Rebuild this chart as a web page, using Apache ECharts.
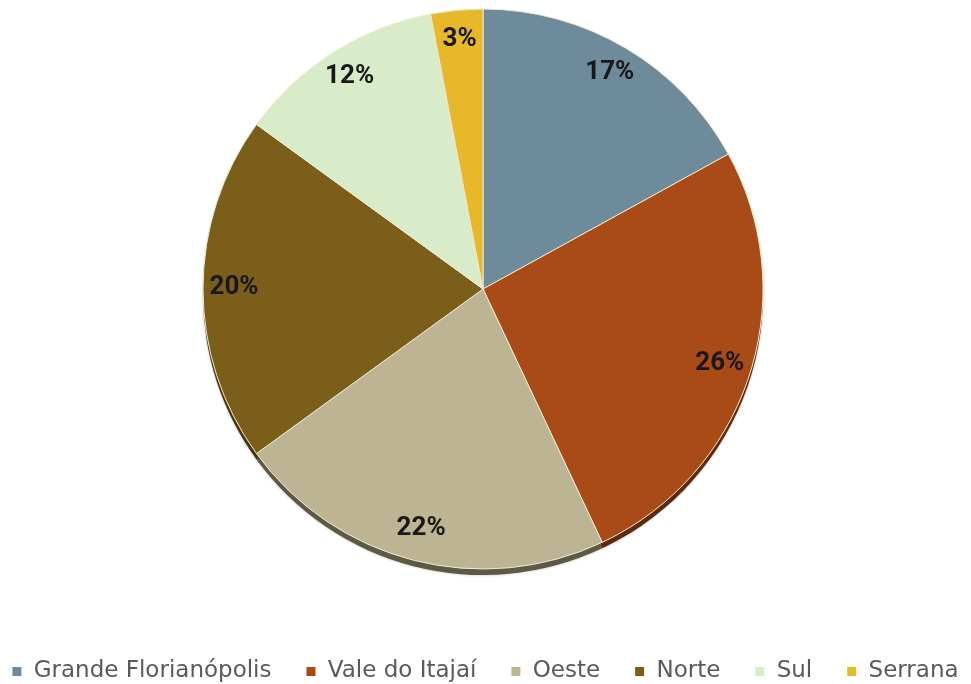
<!DOCTYPE html>
<html>
<head>
<meta charset="utf-8">
<script src="https://cdn.jsdelivr.net/npm/echarts@6/dist/echarts.min.js"></script>
<style>
  html, body { margin: 0; padding: 0; background: #ffffff; }
  #chart { width: 971px; height: 684px; }
</style>
</head>
<body>
<div id="chart"></div>
<script>
// Regiões e participação percentual
const regions = ['Grande Florianópolis', 'Vale do Itajaí', 'Oeste', 'Norte', 'Sul', 'Serrana'];
const shares = [17, 26, 22, 20, 12, 3];
const topColors = ['#6e8b9b', '#a84b16', '#bcb493', '#7a5e19', '#d9ecca', '#e7b92a'];
const sideColors = ['#3e4f58', '#5e2a0b', '#5c5a45', '#463610', '#7d8a72', '#86691a'];

const LABEL_FONT = 'Roboto, "DejaVu Sans Condensed", sans-serif';
const LEGEND_FONT = '"DejaVu Sans", sans-serif';
const CENTER = [483, 289];
const SIDE_CENTER = [483, 295];
const RADIUS = 280;

const chart = echarts.init(document.getElementById('chart'), null, { renderer: 'canvas' });
chart.setOption({
  animation: false,
  backgroundColor: '#ffffff',
  color: topColors,
  legend: {
    top: 655,
    left: 'center',
    icon: 'rect',
    itemWidth: 9,
    itemHeight: 9,
    itemGap: 35,
    itemStyle: { borderWidth: 0 },
    formatter: name => ' ' + name,
    textStyle: { fontFamily: LEGEND_FONT, fontSize: 23, color: '#5a5a5a' },
    data: regions
  },
  series: [
    {
      // lateral (borda inferior do disco)
      type: 'pie',
      center: SIDE_CENTER,
      radius: [0, RADIUS],
      startAngle: 90,
      clockwise: true,
      silent: true,
      legendHoverLink: false,
      label: { show: false },
      labelLine: { show: false },
      itemStyle: { borderWidth: 0, shadowColor: 'rgba(0,0,0,0.25)', shadowBlur: 3 },
      data: regions.map((name, i) => ({ name: name + ' ', value: shares[i], itemStyle: { color: sideColors[i] } }))
    },
    {
      // fatias
      type: 'pie',
      center: CENTER,
      radius: [0, RADIUS],
      startAngle: 90,
      clockwise: true,
      silent: true,
      label: { show: false },
      labelLine: { show: false },
      itemStyle: { borderColor: '#f3ead2', borderWidth: 1 },
      data: regions.map((name, i) => ({ name, value: shares[i], itemStyle: { color: topColors[i] } }))
    },
    {
      // rótulos de percentual perto da borda
      type: 'pie',
      center: [483, 287],
      radius: [212, 280],
      startAngle: 90,
      clockwise: true,
      silent: true,
      legendHoverLink: false,
      itemStyle: { color: 'rgba(0,0,0,0)', borderWidth: 0 },
      label: {
        show: true,
        position: 'inside',
        formatter: p => p.value + '%',
        fontFamily: LABEL_FONT,
        fontSize: 26,
        fontWeight: 'bold',
        color: '#181818'
      },
      labelLine: { show: false },
      data: regions.map((name, i) => ({ name: name + '  ', value: shares[i] }))
    }
  ]
});
</script>
</body>
</html>
